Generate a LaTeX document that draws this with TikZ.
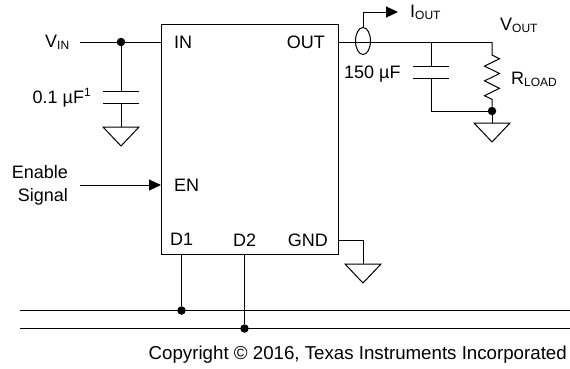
\documentclass[tikz,border=0pt]{standalone}
\usepackage{fontspec}
\setmainfont{Liberation Sans}
\usepackage{tikz}
\usetikzlibrary{arrows.meta, shapes.geometric}

\newcommand{\sublbl}[1]{\raisebox{-2.5pt}{\fontsize{12}{12}\selectfont #1}}
\newcommand{\suplbl}[1]{\raisebox{7pt}{\fontsize{12}{12}\selectfont #1}}

\tikzset{
    wire/.style={line width=1pt},
    lbl/.style={inner sep=0pt, font=\fontsize{18}{20}\selectfont},
    junction/.style={circle, fill=black, inner sep=0pt, minimum size=8.5pt},
    ic/.style={draw, line width=1pt, inner sep=0pt, minimum width=177pt, minimum height=230pt},
    ground/.pic={\draw[wire] (-18,0) -- (18,0) -- (0,19) -- cycle;},
    plates/.pic={\draw[wire] (-18,0) -- (18,0) (-18,12.5) -- (18,12.5);}
}

\begin{document}
\begin{tikzpicture}[x=1pt, y=-1pt]
    \useasboundingbox (0,0) rectangle (570,368);

    % Draw the regulator block
    \node[ic] (block) at (250,139) {};

    % Input side
    \coordinate (vinend) at (80,42);
    \node[junction] (vindot) at (121,42) {};
    \coordinate (cinup) at (121,91);
    \coordinate (cindown) at (121,103.5);
    \coordinate (cingnd) at (121,127);
    \draw[wire] (vinend) -- (block.west |- vinend);
    \draw[wire] (vindot) -- (cinup);
    \draw[wire] (cindown) -- (cingnd);
    \pic at (cinup) {plates};
    \pic at (cingnd) {ground};

    % Enable arrow
    \coordinate (enend) at (80,185);
    \draw[wire, -{Triangle[length=12pt,width=11pt]}] (enend) -- (block.west |- enend);

    % Output side
    \coordinate (outtop) at (492,42);
    \coordinate (coutup) at (431,66);
    \coordinate (coutdown) at (431,78.5);
    \node[junction] (loaddot) at (492,111) {};
    \coordinate (loadgnd) at (492,123);
    \draw[wire] (block.east |- outtop) -- (outtop);
    \draw[wire] (coutup |- outtop) -- (coutup);
    \draw[wire] (coutdown) |- (loaddot);
    \draw[wire] (outtop) -- ++(0,13) -- ++(7.5,3.7) -- ++(-15,7.4) -- ++(15,7.4) -- ++(-15,7.4)
        -- ++(15,7.4) -- ++(-15,7.4) -- ++(7.5,3.7) -- (loaddot);
    \draw[wire] (loaddot) -- (loadgnd);
    \pic at (coutup) {plates};
    \pic at (loadgnd) {ground};

    % Current sense loop and its arrow
    \node[draw, line width=1pt, ellipse, inner sep=0pt, minimum width=15pt, minimum height=27pt] (sense) at (363,41) {};
    \coordinate (iend) at (398,12);
    \draw[wire, -{Triangle[length=12pt,width=11pt]}] (sense.north) |- (iend);

    % Ground pin
    \coordinate (gndpin) at (338.5,240);
    \coordinate (gndtop) at (363,264);
    \draw[wire] (gndpin) -| (gndtop);
    \pic at (gndtop) {ground};

    % Bus lines
    \coordinate (busaleft) at (20,310.5);
    \coordinate (busaright) at (570,310.5);
    \coordinate (busbleft) at (20,328.5);
    \coordinate (busbright) at (570,328.5);
    \draw[wire] (busaleft) -- (busaright);
    \draw[wire] (busbleft) -- (busbright);
    \node[junction] (donedot) at (181.5,310.5) {};
    \node[junction] (dtwodot) at (244.5,328.5) {};
    \draw[wire] (block.south -| donedot) -- (donedot);
    \draw[wire] (block.south -| dtwodot) -- (dtwodot);

    % Pin names
    \node[lbl, anchor=base west] (pinin) at (174,48) {IN};
    \node[lbl, anchor=base east] (pinout) at (325,48) {OUT};
    \node[lbl, anchor=base west] (pinen) at (174,191) {EN};
    \node[lbl, anchor=base west] (pindone) at (170,245) {D1};
    \node[lbl, anchor=base west] (pindtwo) at (233,246) {D2};
    \node[lbl, anchor=base east] (pingnd) at (328,246) {GND};

    % Outer labels
    \node[lbl, anchor=base west] (vin) at (45,47) {V\sublbl{IN}};
    \node[lbl, anchor=base east] (cinval) at (91,103) {0.1 µF\suplbl{1}};
    \node[lbl, anchor=base east] (enable) at (68,178) {Enable};
    \node[lbl, anchor=base east] (signal) at (68,201) {Signal};
    \node[lbl, anchor=base west] (iout) at (410,17) {I\sublbl{OUT}};
    \node[lbl, anchor=base west] (vout) at (500,30) {V\sublbl{OUT}};
    \node[lbl, anchor=base west] (coutval) at (344,78) {150 µF};
    \node[lbl, anchor=base west] (rload) at (511,84) {R\sublbl{LOAD}};
    \node[lbl, anchor=base east, font=\fontsize{18.7}{20}\selectfont] (copy) at (567,359) {Copyright © 2016, Texas Instruments Incorporated};
\end{tikzpicture}
\end{document}
